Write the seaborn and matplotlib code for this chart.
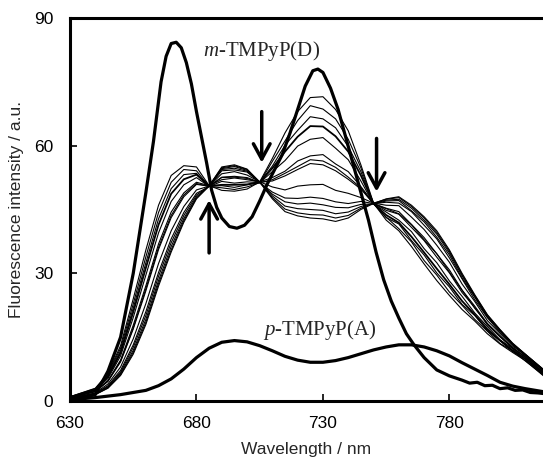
import matplotlib
matplotlib.use("Agg")
import matplotlib.pyplot as plt
import seaborn as sns
import pandas as pd

# ---------------- data ----------------
# m-TMPyP(D) spectrum (thick)
d_wl = [630, 635, 640, 645, 650, 655, 660, 663, 666, 668, 670, 672, 674, 676, 678, 680,
        682, 684, 686, 688, 690, 693, 696, 699, 702, 705, 708, 711, 714, 717, 720,
        723, 726, 728, 730, 733, 736, 739, 742, 745, 748, 751, 754, 757, 760, 763,
        766, 770, 775, 780, 785, 788, 791, 794, 797, 800, 803, 806, 809, 812, 815, 818]
d_val = [0.5, 0.8, 1.5, 7.0, 15.0, 30.0, 49.0, 61.0, 75.0, 81.0, 84.0, 84.3, 83.0, 79.5, 74.5, 68.0,
         62.0, 56.0, 49.5, 45.5, 43.0, 41.0, 40.6, 41.3, 43.3, 47.0, 51.0, 54.5, 58.0, 63.0, 68.5,
         74.0, 77.6, 78.0, 77.2, 73.5, 68.5, 62.0, 55.5, 49.0, 42.5, 35.0, 28.5, 23.5, 19.5, 15.8,
         13.2, 10.2, 7.3, 5.9, 4.9, 4.2, 4.4, 3.6, 3.7, 2.9, 3.1, 2.5, 2.6, 2.0, 1.9, 1.7]

# p-TMPyP(A) spectrum (thick)
a_wl = [630, 640, 650, 655, 660, 665, 670, 675, 680, 685, 690, 695, 700, 705, 710, 715, 720, 725,
        730, 735, 740, 745, 750, 755, 760, 765, 770, 775, 780, 785, 790, 795, 800, 805, 810, 818]
a_val = [0.3, 0.8, 1.5, 2.0, 2.5, 3.6, 5.2, 7.5, 10.2, 12.4, 13.8, 14.2, 13.9, 13.0, 11.8, 10.5, 9.6, 9.1,
         9.1, 9.5, 10.2, 11.1, 12.0, 12.7, 13.2, 13.2, 12.7, 11.8, 10.6, 9.0, 7.5, 6.0, 4.4, 3.5, 2.9, 2.1]

# titration spectra (thin)
f_wl = [630, 640, 645, 650, 655, 660, 665, 670, 675, 680, 685, 690, 695, 700, 705, 710, 715, 720, 725,
        730, 735, 740, 745, 750, 755, 760, 765, 770, 775, 780, 785, 790, 795, 800, 805, 810, 818]
f01 = [1.0, 3.0, 6.5, 13.0, 24.0, 35.5, 46.0, 53.0, 55.3, 55.0, 50.6, 49.5, 49.3, 49.8, 51.5, 57.0, 63.0, 68.0, 71.3,
       71.5, 68.5, 63.5, 55.5, 46.5, 42.5, 40.0, 36.3, 32.2, 28.3, 24.8, 21.5, 18.8, 15.8, 13.4, 11.4, 9.5, 5.5]
f02 = [1.0, 2.9, 6.2, 12.4, 22.8, 33.9, 44.3, 51.4, 54.4, 54.1, 50.4, 50.1, 49.7, 50.3, 51.3, 56.3, 61.1, 65.9, 69.4,
       68.6, 66.3, 61.5, 54.8, 46.3, 43.2, 40.5, 37.4, 33.0, 29.6, 25.6, 22.5, 19.2, 16.4, 13.5, 11.8, 9.4, 5.7]
f03 = [0.9, 2.7, 5.9, 11.8, 21.8, 32.5, 42.8, 49.9, 53.2, 53.5, 50.5, 50.6, 50.2, 50.8, 51.4, 55.2, 60.1, 63.6, 66.8,
       66.3, 64.2, 59.8, 53.9, 46.4, 43.1, 41.6, 37.7, 34.3, 30.1, 26.8, 22.7, 20.1, 16.5, 14.2, 11.6, 9.9, 5.8]
f04 = [0.9, 2.6, 5.7, 11.3, 20.9, 31.3, 41.4, 48.7, 52.1, 53.2, 50.5, 50.8, 50.8, 50.9, 51.4, 54.7, 58.6, 62.1, 64.6,
       64.5, 62.2, 58.6, 53.0, 46.4, 43.7, 41.9, 38.6, 34.9, 31.1, 27.4, 23.5, 20.3, 16.9, 14.2, 11.9, 9.9, 5.9]
f05 = [0.8, 2.5, 5.3, 10.6, 19.6, 29.6, 39.5, 46.9, 50.8, 52.5, 50.4, 51.6, 51.2, 51.5, 51.3, 53.9, 56.5, 59.9, 61.5,
       61.9, 59.4, 56.7, 51.7, 46.3, 44.4, 42.5, 39.8, 35.8, 32.5, 28.2, 24.6, 20.7, 17.5, 14.4, 12.3, 9.8, 6.0]
f06 = [0.8, 2.3, 4.8, 9.6, 17.8, 27.1, 36.9, 44.4, 48.9, 51.4, 50.6, 52.0, 52.4, 52.0, 51.5, 52.5, 54.0, 56.4, 57.6,
       57.9, 55.7, 53.9, 50.4, 46.5, 44.8, 43.9, 40.8, 37.7, 33.8, 30.1, 25.5, 22.0, 17.9, 15.1, 12.4, 10.3, 6.2]
f07 = [0.7, 2.2, 4.7, 9.4, 17.2, 26.4, 36.1, 43.6, 48.4, 51.1, 50.4, 52.5, 52.6, 52.3, 51.3, 52.0, 53.5, 55.1, 56.7,
       56.4, 54.9, 52.6, 50.1, 46.3, 45.2, 44.0, 41.4, 37.9, 34.6, 30.3, 26.0, 21.8, 18.2, 15.1, 12.6, 10.2, 6.3]
f08 = [0.7, 2.2, 4.6, 9.2, 16.9, 25.9, 35.6, 43.1, 48.0, 50.9, 50.5, 52.6, 52.8, 52.5, 51.4, 51.7, 52.9, 54.4, 55.8,
       55.5, 54.1, 52.1, 49.8, 46.4, 45.3, 44.5, 41.5, 38.4, 34.6, 30.8, 26.1, 22.3, 18.2, 15.4, 12.5, 10.4, 6.3]
f09 = [0.6, 1.9, 4.0, 8.0, 14.6, 22.9, 32.3, 40.0, 45.7, 49.6, 50.5, 53.4, 53.9, 53.1, 51.5, 50.3, 49.6, 50.5, 50.8,
       50.9, 49.5, 48.8, 47.8, 46.5, 46.0, 45.9, 43.2, 40.3, 36.6, 32.6, 27.5, 23.4, 18.9, 15.9, 12.9, 10.7, 6.6]
f10 = [0.6, 1.8, 3.6, 7.2, 13.2, 21.0, 30.2, 38.1, 44.3, 48.8, 50.4, 54.1, 54.3, 53.8, 51.3, 49.1, 47.7, 47.6, 47.9,
       47.6, 46.8, 46.4, 46.9, 46.4, 46.7, 46.5, 44.5, 41.3, 38.1, 33.6, 28.7, 23.8, 19.6, 16.1, 13.3, 10.6, 6.7]
f11 = [0.6, 1.7, 3.4, 6.8, 12.6, 20.1, 29.3, 37.2, 43.6, 48.4, 50.5, 54.4, 54.7, 54.0, 51.4, 48.6, 46.8, 46.3, 46.5,
       46.1, 45.5, 45.4, 46.2, 46.3, 47.0, 47.1, 44.7, 42.1, 38.5, 34.3, 28.9, 24.4, 19.7, 16.5, 13.2, 10.9, 6.8]
f12 = [0.5, 1.6, 3.2, 6.5, 11.9, 19.2, 28.3, 36.3, 42.9, 48.0, 50.5, 54.6, 55.1, 54.2, 51.4, 48.2, 45.8, 45.2, 45.0,
       44.8, 44.0, 44.4, 45.7, 46.4, 47.2, 47.4, 45.3, 42.5, 39.2, 34.8, 29.4, 24.6, 20.0, 16.6, 13.4, 10.9, 6.9]
f13 = [0.5, 1.5, 3.1, 6.2, 11.4, 18.5, 27.6, 35.5, 42.4, 47.7, 50.6, 54.8, 55.3, 54.4, 51.5, 47.8, 45.1, 44.2, 43.8,
       43.7, 43.0, 43.6, 45.3, 46.5, 47.4, 47.8, 45.7, 43.0, 39.6, 35.2, 29.7, 24.8, 20.2, 16.7, 13.5, 11.0, 7.0]
f14 = [0.5, 1.5, 3.0, 6.0, 11.0, 18.0, 27.0, 35.0, 42.0, 47.5, 50.5, 55.0, 55.5, 54.5, 51.4, 47.5, 44.5, 43.5, 43.0,
       42.8, 42.2, 43.0, 45.0, 46.4, 47.5, 48.0, 46.0, 43.3, 40.0, 35.5, 30.0, 25.0, 20.3, 16.8, 13.6, 11.0, 7.0]
family = [f01, f02, f03, f04, f05, f06, f07, f08, f09, f10, f11, f12, f13, f14]

x_ticks = [630, 680, 730, 780]
y_ticks = [0, 30, 60, 90]

# ---------------- style ----------------
sns.set_style("ticks")
plt.rcParams["font.family"] = ["Liberation Sans", "DejaVu Sans"]
plt.rcParams["mathtext.fontset"] = "custom"
plt.rcParams["mathtext.rm"] = "Liberation Serif"
plt.rcParams["mathtext.it"] = "Liberation Serif:italic"

fig = plt.figure(figsize=(5.43, 4.67), dpi=100)
ax = fig.add_axes([70 / 543, 1 - 401 / 467, 1 - 70 / 543, (401 - 18) / 467])

rows = []
for i, vals in enumerate(family):
    for w, v in zip(f_wl, vals):
        rows.append({"wl": w, "val": v, "line": i})
fam_df = pd.DataFrame(rows)

thin_df = fam_df[fam_df["line"] != 3]
sns.lineplot(data=thin_df, x="wl", y="val", units="line", estimator=None, sort=False,
             color="black", lw=0.8, ax=ax, legend=False)
sns.lineplot(data=fam_df[fam_df["line"] == 3], x="wl", y="val", estimator=None, sort=False,
             color="black", lw=1.3, ax=ax, legend=False)
sns.lineplot(x=d_wl, y=d_val, estimator=None, sort=False, color="black", lw=2.3, ax=ax)
sns.lineplot(x=a_wl, y=a_val, estimator=None, sort=False, color="black", lw=2.3, ax=ax)

ax.set_xlim(630, 817)
ax.set_ylim(0, 90)
ax.set_xticks(x_ticks)
ax.set_yticks(y_ticks)
ax.tick_params(direction="in", length=5, width=1.2, labelsize=12.5, colors="black")
ax.tick_params(axis="x", pad=11)
ax.tick_params(axis="y", pad=12)
for s in ["top", "left", "bottom"]:
    ax.spines[s].set_linewidth(2.2)
    ax.spines[s].set_color("black")
ax.spines["right"].set_visible(False)

ax.set_xlabel("Wavelength / nm", fontsize=12.5, labelpad=8)
ax.set_ylabel("Fluorescence intensity / a.u.", fontsize=12.5, labelpad=7)

ax.text(682.6, 82.2, r"$m$-TMPyP(D)", fontfamily="Liberation Serif", fontsize=15,
        ha="left", va="center")
ax.text(706.3, 16.7, r"$p$-TMPyP(A)", fontfamily="Liberation Serif", fontsize=15,
        ha="left", va="center")

arrow_kw = dict(arrowstyle="->,head_length=0.55,head_width=0.3", lw=2.5, color="black",
                shrinkA=0, shrinkB=0, mutation_scale=20)
ax.annotate("", xy=(685.0, 47.2), xytext=(685.0, 34.8), arrowprops=arrow_kw)
ax.annotate("", xy=(705.8, 56.0), xytext=(705.8, 68.0), arrowprops=arrow_kw)
ax.annotate("", xy=(751.2, 49.2), xytext=(751.2, 61.7), arrowprops=arrow_kw)

fig.savefig("out.png", dpi=100)
